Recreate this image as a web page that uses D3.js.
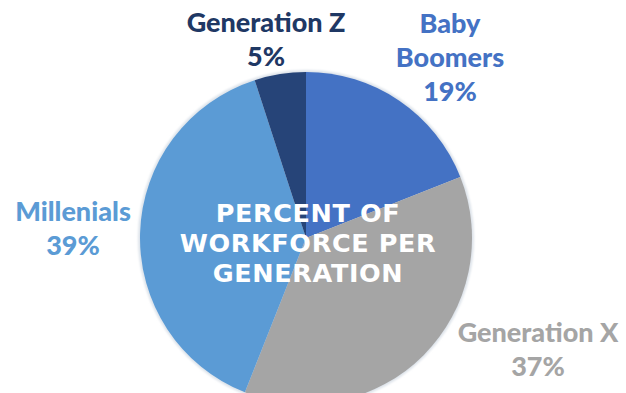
<!DOCTYPE html>
<html>
<head>
<meta charset="utf-8">
<script src="https://cdn.jsdelivr.net/npm/d3@7"></script>
<style>
  html, body { margin: 0; padding: 0; background: #fff; }
  svg { display: block; }
</style>
</head>
<body>
<div id="chart"></div>
<script>
// data
var generations = ["Baby Boomers", "Generation X", "Millenials", "Generation Z"]
var shares = [19, 37, 39, 5]
var labelLines = [["Baby", "Boomers"], ["Generation X"], ["Millenials"], ["Generation Z"]]
var sliceColors = ["#4472c4", "#a5a5a5", "#5b9bd5", "#264478"]
var labelColors = ["#4472c4", "#a5a5a5", "#5b9bd5", "#1f3864"]
var title = ["PERCENT OF", "WORKFORCE PER", "GENERATION"]

var width = 626, height = 393
var cx = 306, cy = 238, radius = 166

// where each label block sits (top line baseline), as in the picture
var labelAt = [[450, 33], [538, 342], [73, 221], [266, 32]]

var svg = d3.select("#chart")
  .append("svg")
    .attr("width", width)
    .attr("height", height)

var defs = svg.append("defs")
var blur = defs.append("filter").attr("id", "soft")
    .attr("x", "-10%").attr("y", "-10%").attr("width", "120%").attr("height", "120%")
blur.append("feGaussianBlur").attr("stdDeviation", 1.2)

var pie = d3.pie().sort(null).value(d => d)
var arc = d3.arc().innerRadius(0).outerRadius(radius)
var arcs = pie(shares)

var g = svg.append("g")
    .attr("transform", "translate(" + cx + "," + cy + ")")

// faint halo round the pie
g.append("circle")
    .attr("r", radius + 2)
    .attr("fill", "#dde3ea")
    .attr("filter", "url(#soft)")

g.selectAll("path.slice")
  .data(arcs)
  .enter().append("path")
    .attr("class", "slice")
    .attr("d", arc)
    .attr("fill", (d, i) => sliceColors[i])

// labels
var lineH = 34
labelLines.forEach(function (lines, i) {
  var t = svg.append("text")
      .attr("x", labelAt[i][0])
      .attr("y", labelAt[i][1])
      .attr("text-anchor", "middle")
      .attr("fill", labelColors[i])
      .style("font-family", "Lato, 'Open Sans', sans-serif")
      .style("font-weight", 900)
      .style("font-size", "27px")
  lines.concat([shares[i] + "%"]).forEach(function (s, k) {
    t.append("tspan")
        .attr("x", labelAt[i][0])
        .attr("dy", k == 0 ? 0 : lineH)
        .text(s)
  })
})

// white title over the middle, one text per line
title.forEach(function (s, k) {
  svg.append("text")
      .attr("x", cx + 2)
      .attr("y", 222 + k * 30)
      .attr("text-anchor", "middle")
      .attr("fill", "#fff")
      .style("font-family", "'DejaVu Sans', sans-serif")
      .style("font-weight", 700)
      .style("font-size", "25.5px")
      .style("letter-spacing", "0.6px")
      .text(s)
})
</script>
</body>
</html>
